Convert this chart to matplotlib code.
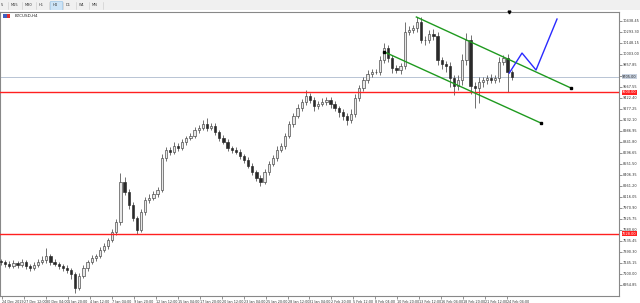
import matplotlib.pyplot as plt
from matplotlib.patches import Rectangle
from matplotlib.transforms import blended_transform_factory

# BTCUSD H4, every candle here stands for three H4 bars
first_open = 7270
closes = [7257, 7230, 7204, 7243, 7217, 7257, 7204, 7177, 7217, 7257,
          7283, 7336, 7257, 7230, 7204, 7177, 7151, 7098, 6913, 7072,
          7177, 7257, 7309, 7336, 7415, 7468, 7547, 7653, 7785, 8313,
          8181, 8009, 7837, 7679, 7917, 8075, 8101, 8154, 8207, 8629,
          8735, 8709, 8788, 8761, 8841, 8893, 8920, 8999, 9025, 9078,
          9025, 9052, 8973, 8893, 8841, 8761, 8735, 8709, 8656, 8603,
          8524, 8445, 8365, 8313, 8445, 8550, 8629, 8735, 8788, 8920,
          9078, 9184, 9289, 9369, 9448, 9395, 9316, 9342, 9369, 9395,
          9342, 9289, 9237, 9184, 9131, 9210, 9421, 9553, 9659, 9738,
          9765, 9765, 9923, 10081, 9949, 9817, 9791, 9844, 10293, 10319,
          10345, 10425, 10187, 10187, 10266, 10240, 9923, 9870, 9844, 9685,
          9580, 9659, 9923, 10187, 9580, 9553, 9633, 9659, 9685, 9659,
          9685, 9897, 9949, 9765, 9705]
up_wick = [30, 25, 40, 35, 30, 45, 25, 30, 40, 35, 50, 105, 30, 35, 25, 30, 40, 30, 25, 40,
           35, 30, 45, 30, 40, 35, 30, 45, 40, 118, 60, 40, 35, 30, 45, 40, 50, 35, 40, 60,
           45, 40, 50, 35, 40, 30, 45, 40, 35, 50, 79, 40, 35, 30, 40, 35, 30, 40, 35, 30,
           40, 35, 30, 35, 45, 40, 35, 50, 40, 45, 40, 35, 50, 45, 79, 40, 35, 40, 50, 45,
           35, 40, 30, 35, 40, 60, 50, 45, 40, 50, 45, 40, 50, 66, 45, 40, 35, 40, 132, 50,
           45, 66, 60, 50, 55, 60, 50, 45, 40, 50, 45, 60, 80, 92, 60, 50, 60, 45, 40, 50,
           45, 60, 40, 50, 30]
dn_wick = [40, 35, 30, 25, 45, 30, 40, 35, 30, 25, 30, 40, 45, 30, 40, 35, 45, 60, 66, 30,
           25, 40, 30, 35, 30, 25, 40, 30, 35, 40, 45, 50, 45, 53, 30, 35, 40, 30, 35, 30,
           40, 35, 30, 40, 30, 35, 30, 25, 40, 30, 35, 30, 40, 35, 30, 45, 35, 30, 40, 35,
           30, 40, 45, 50, 30, 35, 30, 35, 30, 35, 30, 40, 30, 35, 40, 45, 60, 35, 30, 40,
           50, 45, 60, 50, 70, 40, 35, 40, 35, 40, 35, 30, 35, 40, 50, 60, 45, 50, 40, 45,
           40, 50, 45, 60, 45, 50, 70, 60, 80, 120, 119, 50, 60, 70, 100, 264, 200, 60, 50, 45,
           40, 50, 45, 265, 40]

y_tick_labels = ["10438.45", "10293.30", "10148.15", "10003.00", "9857.85", "9712.70",
                 "9567.55", "9422.40", "9277.25", "9132.10", "8986.95", "8841.80",
                 "8696.65", "8551.50", "8406.35", "8261.20", "8116.05", "7970.90",
                 "7825.75", "7680.60", "7535.45", "7390.30", "7245.15", "7100.00", "6954.85"]
x_tick_labels = ["24 Dec 2019", "27 Dec 12:00", "30 Dec 04:00", "1 Jan 20:00", "4 Jan 12:00",
                 "7 Jan 04:00", "9 Jan 20:00", "12 Jan 12:00", "15 Jan 04:00", "17 Jan 20:00",
                 "20 Jan 12:00", "23 Jan 04:00", "25 Jan 20:00", "28 Jan 12:00", "31 Jan 04:00",
                 "2 Feb 20:00", "5 Feb 12:00", "8 Feb 04:00", "10 Feb 20:00", "13 Feb 12:00",
                 "16 Feb 04:00", "18 Feb 20:00", "21 Feb 12:00", "24 Feb 04:00"]

current_price = 9705.00
support_levels = [9500.00, 7628.00]
channel_upper = ([100.85, 138.4], [10491, 9553])
channel_lower = ([93.1, 131.1], [10029, 9091])
forecast = ([123.4, 126.5, 129.9, 135.0], [9751, 10015, 9791, 10464])

opens = [first_open] + closes[:-1]
highs = [max(o, c) + u for o, c, u in zip(opens, closes, up_wick)]
lows = [min(o, c) - d for o, c, d in zip(opens, closes, dn_wick)]
idx = list(range(len(closes)))

fig = plt.figure(figsize=(6.4, 3.03), dpi=100, facecolor='white')
ax = fig.add_axes([0.0, 7 / 303, 619 / 640, 284 / 303])
ax.set_xlim(-0.25, 150.05)
ax.set_ylim(6808, 10557)

# candles
ax.vlines(idx, lows, highs, color='#5a5a5a', linewidth=0.6, zorder=2)
bull = [i for i in idx if closes[i] >= opens[i]]
bear = [i for i in idx if closes[i] < opens[i]]
ax.bar(bull, [max(closes[i] - opens[i], 4) for i in bull], bottom=[opens[i] for i in bull],
       width=0.55, color='#e8e8e8', edgecolor='#404040', linewidth=0.45, zorder=3)
ax.bar(bear, [opens[i] - closes[i] for i in bear], bottom=[closes[i] for i in bear],
       width=0.55, color='#2a2a2a', edgecolor='#2a2a2a', linewidth=0.45, zorder=3)

# levels, channel, projection
ax.axhline(current_price, color='#b8c4d4', linewidth=0.7, zorder=1)
for lvl in support_levels:
    ax.axhline(lvl, color='#ff2020', linewidth=1.0, zorder=4)
for xs, ys in (channel_upper, channel_lower):
    ax.plot(xs, ys, color='#1f9a1f', linewidth=1.0, zorder=5)
    ax.plot(xs[-1], ys[-1], 's', color='black', markersize=1.5, zorder=6)
ax.plot(channel_lower[0][0], channel_lower[1][0], 's', color='black', markersize=1.5, zorder=6)
ax.plot(forecast[0], forecast[1], color='#2a2aff', linewidth=1.0, zorder=5)
ax.plot([123.4], [10557], 'v', color='black', markersize=2, clip_on=False, zorder=7)

# axes styling like the terminal
ax.yaxis.tick_right()
ax.set_yticks([float(v) for v in y_tick_labels])
shown = ['' if v == "9712.70" else v for v in y_tick_labels]
ax.set_yticklabels(shown, fontsize=2.5, color='#333333')
x_pos = [0.23 + k * 16 / 3 for k in range(len(x_tick_labels))]
ax.set_xticks(x_pos)
ax.set_xticklabels(x_tick_labels, fontsize=2.4, color='#333333', ha='left')
ax.tick_params(axis='both', length=2, width=0.5, color='#666666', pad=0.8)
for s in ax.spines.values():
    s.set_color('#888888')
    s.set_linewidth(0.8)

tr = blended_transform_factory(ax.transAxes, ax.transData)
ax.text(1.005, current_price, f'{current_price:.2f}', transform=tr, fontsize=2.5, color='#222222',
        va='center', ha='left', bbox=dict(boxstyle='square,pad=0.15', fc='#c8d2e0', ec='none'))
for lvl in support_levels:
    ax.text(1.005, lvl, f'{lvl:.2f}', transform=tr, fontsize=2.5, color='white',
            va='center', ha='left', bbox=dict(boxstyle='square,pad=0.15', fc='#ff2020', ec='none'))

ax.text(15 / 619, 1 - 4 / 284, 'BTCUSD,H4', transform=ax.transAxes, fontsize=3,
        color='#222222', va='center', ha='left')
ax.add_patch(Rectangle((3 / 619, 1 - 6 / 284), 4 / 619, 4 / 284, transform=ax.transAxes,
                       fc='#4060c0', ec='none', clip_on=False))
ax.add_patch(Rectangle((7 / 619, 1 - 6 / 284), 3 / 619, 4 / 284, transform=ax.transAxes,
                       fc='#e03030', ec='none', clip_on=False))

# period toolbar
tb = fig.add_axes([0, 293 / 303, 1, 10 / 303])
tb.set_xlim(0, 640)
tb.set_ylim(0, 10)
tb.axis('off')
tb.add_patch(Rectangle((0, 0), 640, 10, fc='#f0f0f0', ec='none'))
tb.add_patch(Rectangle((50, 0.5), 12, 9, fc='#cde4f7', ec='#90c0e8', linewidth=0.4))
for x, lab in zip([1, 11, 25, 39, 53, 66, 79, 92], ['5', 'M15', 'M30', 'H1', 'H4', 'D1', 'W1', 'MN']):
    tb.text(x, 5, lab, fontsize=2.6, color='#333333', va='center', ha='left')
for x in [8, 22, 36, 49, 63, 76, 89, 103]:
    tb.plot([x, x], [1.5, 8.5], color='#c8c8c8', linewidth=0.4)
tb.plot([0, 640], [0.2, 0.2], color='#d0d0d0', linewidth=0.6)

fig.savefig('out.png', dpi=100, facecolor='white')
